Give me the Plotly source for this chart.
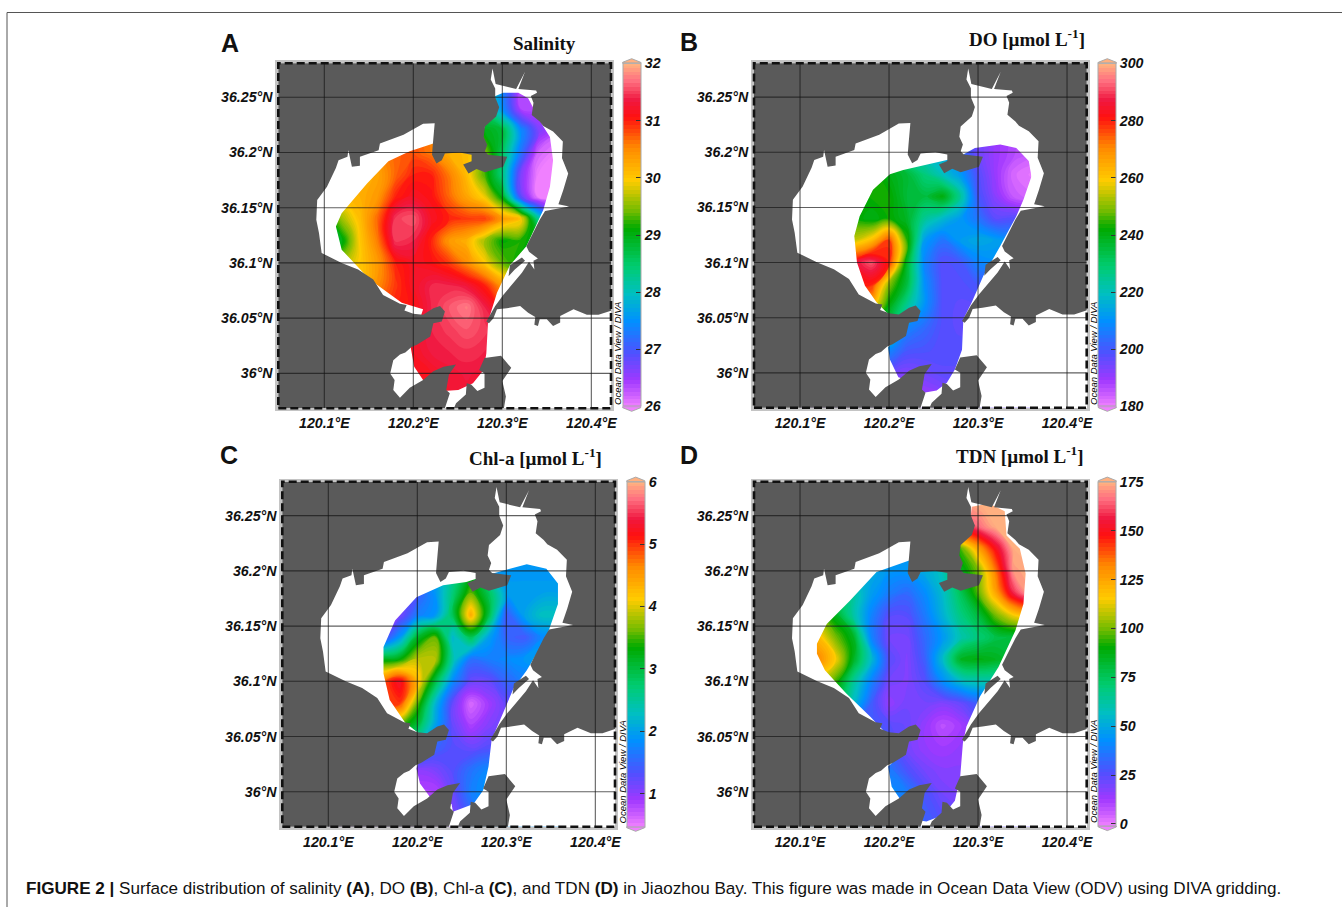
import plotly.graph_objects as go

W, H = 1342, 907

# ---------- data ----------
lon_grid = [120.10, 120.12, 120.14, 120.16, 120.18, 120.20, 120.22, 120.24, 120.26, 120.28, 120.30, 120.32, 120.34, 120.36]
lat_grid = [35.96, 35.98, 36.00, 36.02, 36.04, 36.06, 36.08, 36.10, 36.12, 36.14, 36.16, 36.18, 36.20, 36.22, 36.24, 36.26]

salinity = [
 [31.1,31.1,31.1,31.1,31.1,31.15,31.2,31.25,31.3,31.3,31.3,31.3,31.3,31.3],
 [31.1,31.1,31.1,31.1,31.1,31.15,31.2,31.25,31.3,31.3,31.3,31.3,31.3,31.3],
 [31.1,31.1,31.1,31.1,31.1,31.15,31.2,31.3,31.35,31.3,31.3,31.3,31.3,31.3],
 [31.1,31.1,31.1,31.1,31.1,31.2,31.35,31.4,31.45,31.4,31.3,31.3,31.3,31.3],
 [31.1,31.1,31.1,31.1,31.1,31.2,31.4,31.5,31.6,31.5,31.3,31.3,31.3,31.3],
 [30.5,30.5,30.6,30.8,31.0,31.1,31.4,31.6,31.75,31.4,31.0,31.0,31.0,31.0],
 [30.0,30.0,30.0,30.5,30.9,31.2,31.4,31.4,31.3,31.0,30.4,30.0,30.0,30.0],
 [29.0,29.6,30.0,30.4,31.0,31.2,31.1,30.9,30.5,30.0,29.4,29.1,29.0,29.0],
 [28.5,29.0,30.0,30.6,31.5,31.4,31.0,30.4,30.2,29.6,29.1,29.2,29.0,28.0],
 [29.0,29.6,30.1,30.7,31.5,31.6,31.2,31.0,30.9,30.9,30.4,30.1,28.3,27.0],
 [30.0,30.1,30.2,30.4,31.0,31.2,31.1,30.7,30.3,29.9,29.0,26.9,26.0,26.0],
 [30.2,30.2,30.2,30.3,30.7,31.0,31.0,30.6,30.1,29.3,28.4,26.7,26.0,26.0],
 [30.4,30.4,30.4,30.5,30.7,30.8,30.6,30.2,30.1,29.5,28.6,27.3,26.2,26.0],
 [30.4,30.4,30.4,30.5,30.7,30.8,30.6,30.2,29.8,29.0,28.8,27.5,26.7,26.3],
 [30.4,30.4,30.4,30.5,30.7,30.8,30.6,30.2,29.8,28.5,27.5,26.4,26.3,26.0],
 [30.4,30.4,30.4,30.5,30.7,30.8,30.6,30.2,29.8,28.5,27.5,26.4,26.3,26.0],
]
dissolved_oxygen = [
 [190,190,190,190,190,190,190,190,192,195,195,195,195,195],
 [190,190,190,190,190,190,190,190,192,195,195,195,195,195],
 [195,195,195,195,195,195,193,195,197,197,197,197,197,197],
 [208,208,208,208,208,208,200,199,198,198,198,198,198,198],
 [235,235,235,235,235,230,208,203,198,197,197,197,197,197],
 [262,262,262,262,262,240,225,210,198,197,197,197,197,197],
 [280,280,280,280,280,250,235,210,198,198,200,200,200,200],
 [285,285,285,285,292,280,238,208,198,200,208,210,210,210],
 [255,255,255,255,262,278,245,212,205,212,215,213,210,210],
 [243,243,243,243,240,243,238,225,218,212,205,197,198,198],
 [242,242,242,242,243,243,236,235,241,225,200,192,185,183],
 [243,243,243,243,243,240,236,228,220,212,198,190,183,181],
 [240,240,240,240,240,232,222,218,215,205,195,190,187,185],
 [240,240,240,240,240,232,222,218,215,205,195,190,187,185],
 [240,240,240,240,240,232,222,218,215,205,195,190,187,185],
 [240,240,240,240,240,232,222,218,215,205,195,190,187,185],
]
chlorophyll = [
 [1,1,1,1,1,1,1.0,1.1,1.5,1.9,1.9,1.9,1.9,1.9],
 [1,1,1,1,1,1,1.0,1.1,1.5,1.9,1.9,1.9,1.9,1.9],
 [.8,.8,.8,.8,.8,.8,.8,1.2,1.7,1.9,1.9,1.9,1.9,1.9],
 [1,1,1,1,1,1.0,1.1,1.3,1.6,1.8,1.8,1.8,1.8,1.8],
 [2,2,2,2,2,2.0,1.5,1.3,1.2,1.3,1.3,1.3,1.3,1.3],
 [3.5,3.5,3.5,3.5,3.5,3.0,2.0,1.2,.85,1.05,1.2,1.2,1.2,1.2],
 [5,5,5,5,5.0,3.6,2.2,1.2,.6,.9,1.2,1.2,1.2,1.2],
 [4.8,4.8,4.8,4.8,5.3,4.3,3.0,1.8,1.2,1.2,1.5,1.7,1.7,1.7],
 [3.2,3.2,3.2,3.2,3.3,3.9,3.9,2.4,1.6,1.7,1.8,1.9,2,2],
 [1.2,1.2,1.2,1.2,1.9,3.1,3.6,2.2,2.9,2.0,1.5,1.4,1.8,1.8],
 [1,1,1,1,1.1,1.7,1.9,2.9,4.4,3.0,1.4,2.0,2.3,2.3],
 [1.2,1.2,1.2,1.2,1.2,1.4,1.9,2.7,3.6,2.9,2.0,2.0,2.0,2.0],
 [2,2,2,2,2,2,2,2.5,3,1.9,1.9,1.9,1.9,1.9],
 [2,2,2,2,2,2,2,2,2,2,2,2,2,2],
 [2,2,2,2,2,2,2,2,2,2,2,2,2,2],
 [2,2,2,2,2,2,2,2,2,2,2,2,2,2],
]
tdn = [
 [40,40,40,40,40,40,40,32,28,25,25,25,25,25],
 [40,40,40,40,40,40,40,30,25,22,22,22,22,22],
 [42,42,42,42,42,42,38,27,20,18,18,18,18,18],
 [37,37,37,37,37,37,27,20,17,17,17,17,17,17],
 [30,30,30,30,30,30,20,15,13,15,15,15,15,15],
 [30,30,30,30,30,25,22,15,8,12,20,20,20,20],
 [80,80,80,55,30,15,20,20,18,22,30,30,30,30],
 [115,110,95,65,40,20,18,25,42,55,60,60,60,60],
 [130,132,115,85,55,25,18,30,55,85,88,85,80,80],
 [125,120,100,85,40,20,20,33,45,60,70,78,80,80],
 [105,100,85,62,40,25,25,37,52,68,80,100,115,120],
 [80,80,75,62,47,38,33,42,55,75,97,125,158,175],
 [60,60,60,55,50,45,45,50,58,85,100,135,172,175],
 [60,60,60,55,50,45,45,50,58,95,125,150,175,175],
 [60,60,60,55,50,45,45,50,58,150,165,175,175,175],
 [60,60,60,55,50,45,45,50,58,175,175,175,175,175],
]

main_land_lon = [120.423,120.408,120.395,120.380,120.365,120.365,120.357,120.350,120.342,120.340,120.336,120.337,120.329,120.320,120.305,120.294,120.290,120.285,120.282,120.286,120.292,120.301,120.3105,120.322,120.330,120.336,120.335,120.340,120.330,120.327,120.342,120.348,120.375,120.363,120.3685,120.374,120.367,120.368,120.357,120.346,120.342,120.333,120.335,120.332,120.339,120.338,120.318,120.3255,120.3155,120.2925,120.289,120.287,120.292,120.292,120.2965,120.293,120.2805,120.279,120.283,120.2805,120.284,120.3055,120.301,120.2805,120.271,120.262,120.256,120.2655,120.2655,120.252,120.2355,120.232,120.226,120.221,120.222,120.224,120.211,120.189,120.1625,120.161,120.140,120.140,120.131,120.127,120.126,120.116,120.113,120.103,120.092,120.091,120.094,120.097,120.1195,120.138,120.155,120.166,120.185,120.1925,120.190,120.200,120.211,120.2225,120.230,120.2355,120.232,120.2225,120.219,120.204,120.198,120.191,120.185,120.1775,120.174,120.179,120.1775,120.185,120.196,120.211,120.2225,120.234,120.248,120.240,120.237,120.241,120.232,120.04,120.04,120.43,120.43]
main_land_lat = [36.057,36.053,36.053,36.058,36.052,36.046,36.043,36.049,36.049,36.043,36.044,36.051,36.055,36.061,36.059,36.058,36.050,36.0455,36.047,36.053,36.061,36.071,36.080,36.091,36.101,36.094,36.102,36.104,36.110,36.115,36.139,36.147,36.151,36.153,36.166,36.181,36.195,36.210,36.219,36.224,36.228,36.234,36.245,36.251,36.254,36.256,36.2575,36.273,36.2575,36.262,36.276,36.266,36.258,36.25,36.241,36.2325,36.2235,36.214,36.207,36.201,36.198,36.196,36.187,36.182,36.185,36.181,36.189,36.192,36.198,36.200,36.199,36.193,36.190,36.198,36.208,36.2265,36.226,36.216,36.208,36.202,36.196,36.188,36.187,36.202,36.196,36.193,36.186,36.169,36.157,36.139,36.127,36.109,36.100,36.094,36.085,36.071,36.063,36.062,36.057,36.054,36.053,36.059,36.061,36.056,36.047,36.0455,36.0335,36.026,36.024,36.019,36.017,36.012,36.000,35.994,35.985,35.978,35.987,35.994,36.002,36.006,36.008,35.999,35.985,35.982,35.96,35.96,36.29,36.29,36.057]

south_land_lon = [120.300,120.304,120.300,120.310,120.2985,120.280,120.274,120.280,120.280,120.272,120.265,120.260,120.259,120.248,120.241]
south_land_lat = [35.96,35.979,35.993,36.005,36.016,36.014,36.003,36.000,35.987,35.984,35.990,35.991,35.981,35.973,35.96]

islet_lon = [120.307,120.3085,120.322,120.3255,120.314]
islet_lat = [36.088,36.098,36.105,36.102,36.094]

area_a_lon = [120.289,120.301,120.318,120.329,120.335,120.346,120.3535,120.357,120.3535,120.346,120.327,120.3085,120.294,120.284,120.282,120.279,120.267,120.2505,120.234,120.211,120.201,120.197,120.211,120.187,120.151,120.1195,120.113,120.1195,120.148,120.172,120.196,120.2225,120.234,120.279]
area_a_lat = [36.25,36.254,36.254,36.249,36.240,36.2235,36.214,36.193,36.169,36.148,36.115,36.098,36.073,36.047,36.018,36.003,35.991,35.985,35.984,35.994,36.006,36.024,36.058,36.064,36.085,36.112,36.133,36.145,36.172,36.192,36.201,36.208,36.217,36.220]
area_b_lon = [120.2835,120.2965,120.325,120.343,120.357,120.360,120.351,120.343,120.325,120.306,120.293,120.2835,120.282,120.274,120.265,120.2535,120.239,120.229,120.2105,120.201,120.199,120.216,120.186,120.173,120.164,120.161,120.167,120.182,120.201,120.216,120.2385,120.265]
area_b_lat = [36.198,36.204,36.207,36.204,36.192,36.178,36.157,36.142,36.115,36.088,36.064,36.0485,36.021,36.003,35.991,35.984,35.982,35.991,35.996,36.012,36.023,36.0395,36.064,36.079,36.100,36.124,36.142,36.166,36.180,36.184,36.188,36.193]
area_c_lon = [120.282,120.304,120.323,120.345,120.358,120.358,120.345,120.323,120.308,120.293,120.2835,120.280,120.274,120.263,120.240,120.2385,120.214,120.203,120.199,120.2105,120.186,120.169,120.162,120.162,120.175,120.199,120.229,120.255]
area_c_lat = [36.197,36.202,36.206,36.202,36.1885,36.170,36.140,36.110,36.0935,36.065,36.047,36.023,36.0015,35.989,35.982,35.989,35.9955,36.0075,36.021,36.047,36.063,36.083,36.107,36.131,36.155,36.176,36.187,36.190]
area_d_lon = [120.293,120.312,120.330,120.332,120.347,120.3535,120.351,120.342,120.323,120.302,120.287,120.283,120.280,120.274,120.261,120.242,120.235,120.212,120.203,120.199,120.216,120.1955,120.179,120.152,120.128,120.119,120.119,120.130,120.156,120.186,120.2235,120.2255,120.277,120.291]
area_d_lat = [36.258,36.261,36.254,36.232,36.220,36.1975,36.170,36.146,36.113,36.086,36.059,36.044,36.014,35.992,35.979,35.973,35.974,35.994,36.0045,36.023,36.035,36.054,36.068,36.089,36.110,36.125,36.134,36.152,36.173,36.199,36.2095,36.222,36.222,36.244]

lon_ticks = [120.1, 120.2, 120.3, 120.4]
lon_labels = ["120.1°E", "120.2°E", "120.3°E", "120.4°E"]
lat_ticks = [36.0, 36.05, 36.1, 36.15, 36.2, 36.25]
lat_labels = ["36°N", "36.05°N", "36.1°N", "36.15°N", "36.2°N", "36.25°N"]

salinity_ticks = [26, 27, 28, 29, 30, 31, 32]
do_ticks = [180, 200, 220, 240, 260, 280, 300]
chl_ticks = [1, 2, 3, 4, 5, 6]
tdn_ticks = [0, 25, 50, 75, 100, 125, 150, 175]

titles = ["Salinity", "DO [µmol L<sup>-1</sup>]", "Chl-a [µmol L<sup>-1</sup>]", "TDN [µmol L<sup>-1</sup>]"]
letters = ["A", "B", "C", "D"]
caption = ("<b>FIGURE 2 |</b> Surface distribution of salinity <b>(A)</b>, DO <b>(B)</b>, Chl-a <b>(C)</b>, and TDN <b>(D)</b> "
           "in Jiaozhou Bay. This figure was made in Ocean Data View (ODV) using DIVA gridding.")

# ---------- style ----------
LAND = "#5a5a5a"
SANS = "Liberation Sans"
SERIF = "Liberation Serif"
odv = [[0, "#F080FF"], [.078, "#A038FF"], [.155, "#5050FF"], [.25, "#0090FF"], [.33, "#00C0C0"],
       [.41, "#00CC70"], [.52, "#00AA00"], [.57, "#70BB00"], [.66, "#FFCC00"], [.757, "#FF8800"],
       [.845, "#FF1010"], [.893, "#F01840"], [.95, "#FF7080"], [1, "#FFB080"]]
X_RANGE = [120.0483, 120.4221]
Y_RANGE = [35.9684, 36.2807]
TICKFONT = dict(family=SANS, size=14.2, color="#111", weight=700, style="italic")

panels = [
    dict(z=salinity, alon=area_a_lon, alat=area_a_lat, zr=(26, 32), ticks=salinity_ticks,
         box=(278.3, 611, 63.3, 408.3), bar=(622.7, 63.3, 406.7), title=(544, 43), letter=(230, 43), odv=(617, 354)),
    dict(z=dissolved_oxygen, alon=area_b_lon, alat=area_b_lat, zr=(180, 300), ticks=do_ticks,
         box=(754, 1086.7, 63.3, 407.7), bar=(1098.3, 63.3, 406.7), title=(1027, 38), letter=(689, 42), odv=(1093, 354)),
    dict(z=chlorophyll, alon=area_c_lon, alat=area_c_lat, zr=(0.47, 6), ticks=chl_ticks,
         box=(282.3, 615, 481.7, 826.7), bar=(626.7, 481.7, 826.7), title=(535, 457), letter=(229, 455), odv=(621.5, 772)),
    dict(z=tdn, alon=area_d_lon, alat=area_d_lat, zr=(-1, 175), ticks=tdn_ticks,
         box=(754, 1086.7, 481.7, 826.7), bar=(1098.3, 481.7, 826), title=(1020, 455), letter=(689, 455), odv=(1093, 772)),
]

def fx(p): return p / W
def fy(p): return 1 - p / H

fig = go.Figure()
layout_axes = {}
shapes, annots = [], []
gx, gy = [], []
for t in lon_ticks:
    gx += [t, t, None]; gy += [Y_RANGE[0], Y_RANGE[1], None]
for t in lat_ticks:
    gx += [X_RANGE[0], X_RANGE[1], None]; gy += [t, t, None]

for i, p in enumerate(panels):
    sfx = "" if i == 0 else str(i + 1)
    xa, ya = "x" + sfx, "y" + sfx
    l, r, t, b = p["box"]
    layout_axes["xaxis" + sfx] = dict(domain=[fx(l), fx(r)], range=X_RANGE, anchor=ya, tickvals=lon_ticks, ticktext=lon_labels,
                                      tickfont=TICKFONT, ticks="", showgrid=False, zeroline=False, showline=True,
                                      mirror=True, linecolor="#c4c4c4", linewidth=3)
    layout_axes["yaxis" + sfx] = dict(domain=[fy(b), fy(t)], range=Y_RANGE, anchor=xa, tickvals=lat_ticks, ticktext=lat_labels,
                                      tickfont=TICKFONT, ticks="", showgrid=False, zeroline=False, showline=True,
                                      mirror=True, linecolor="#c4c4c4", linewidth=3)
    bx, btop, bbot = p["bar"]
    zlo, zhi = p["zr"]
    fig.add_trace(go.Contour(
        x=lon_grid, y=lat_grid, z=p["z"], zmin=zlo, zmax=zhi, colorscale=odv,
        contours=dict(coloring="fill", showlines=False, start=zlo, end=zhi, size=(zhi - zlo) / 90),
        line=dict(width=0, smoothing=1.3),
        xaxis=xa, yaxis=ya, hoverinfo="skip",
        colorbar=dict(x=fx(bx), xanchor="left", xpad=0, y=fy((btop + bbot) / 2), yanchor="middle", ypad=0,
                      len=bbot - btop, lenmode="pixels", thickness=18, thicknessmode="pixels",
                      outlinecolor="#aaaaaa", outlinewidth=1, tickvals=p["ticks"], ticks="inside", ticklen=5,
                      tickcolor="#333", tickfont=dict(family=SANS, size=14.2, color="#111", weight=700, style="italic"))))
    # white water outside the gridded area: frame with the area cut out
    fl, fr, fb, ft = 120.04, 120.43, 35.96, 36.29
    mx = [fl, fr, fr, fl, fl] + p["alon"] + [p["alon"][0], fl]
    my = [fb, fb, ft, ft, fb] + p["alat"] + [p["alat"][0], fb]
    fig.add_trace(go.Scatter(x=mx, y=my, mode="lines", fill="toself", fillcolor="white", line=dict(width=0),
                             xaxis=xa, yaxis=ya, hoverinfo="skip", showlegend=False))
    for lx, ly in [(main_land_lon, main_land_lat), (south_land_lon, south_land_lat), (islet_lon, islet_lat)]:
        fig.add_trace(go.Scatter(x=lx, y=ly, mode="lines", fill="toself", fillcolor=LAND, line=dict(width=0),
                                 xaxis=xa, yaxis=ya, hoverinfo="skip", showlegend=False))
    fig.add_trace(go.Scatter(x=gx, y=gy, mode="lines", line=dict(color="rgba(20,20,20,0.68)", width=1.1),
                             xaxis=xa, yaxis=ya, hoverinfo="skip", showlegend=False))
    # dashed frame
    shapes.append(dict(type="rect", xref="paper", yref="paper", x0=fx(l), x1=fx(r), y0=fy(b), y1=fy(t),
                       line=dict(color="#111", width=2.6, dash="8px,4px"), layer="above"))
    # colour bar end caps
    bw = 18
    cap = 3.6
    shapes.append(dict(type="path", xref="paper", yref="paper", fillcolor="#FFB080", line=dict(color="#aaaaaa", width=1),
                       path=f"M {fx(bx)} {fy(btop)} L {fx(bx)} {fy(btop-1)} L {fx(bx+bw/2)} {fy(btop-cap-1)} L {fx(bx+bw)} {fy(btop-1)} L {fx(bx+bw)} {fy(btop)} Z"))
    shapes.append(dict(type="path", xref="paper", yref="paper", fillcolor="#F080FF", line=dict(color="#aaaaaa", width=1),
                       path=f"M {fx(bx)} {fy(bbot)} L {fx(bx)} {fy(bbot+1)} L {fx(bx+bw/2)} {fy(bbot+cap+1)} L {fx(bx+bw)} {fy(bbot+1)} L {fx(bx+bw)} {fy(bbot)} Z"))
    annots.append(dict(text=titles[i], x=fx(p["title"][0]), y=fy(p["title"][1]), xref="paper", yref="paper", showarrow=False,
                       font=dict(family=SERIF, size=19, color="#111", weight=700), xanchor="center", yanchor="middle"))
    annots.append(dict(text=letters[i], x=fx(p["letter"][0]), y=fy(p["letter"][1]), xref="paper", yref="paper", showarrow=False,
                       font=dict(family=SANS, size=25, color="#111", weight=700), xanchor="center", yanchor="middle"))
    annots.append(dict(text="Ocean Data View / DIVA", x=fx(p["odv"][0]), y=fy(p["odv"][1]), xref="paper", yref="paper",
                       showarrow=False, textangle=-90, font=dict(family=SANS, size=9.5, color="#000", style="italic"),
                       xanchor="center", yanchor="middle"))

annots.append(dict(text=caption, x=fx(24), y=fy(888), xref="paper", yref="paper", showarrow=False, xanchor="left", yanchor="middle",
                   align="left", font=dict(family=SANS, size=17.1, color="#111")))
shapes.append(dict(type="line", xref="paper", yref="paper", x0=fx(7), x1=1, y0=fy(12.5), y1=fy(12.5), line=dict(color="#555", width=1)))
shapes.append(dict(type="line", xref="paper", yref="paper", x0=fx(7), x1=fx(7), y0=0, y1=fy(12.5), line=dict(color="#555", width=1)))

fig.update_layout(width=W, height=H, autosize=False, margin=dict(l=0, r=0, t=0, b=0, autoexpand=False), paper_bgcolor="white", plot_bgcolor="white",
                  showlegend=False, hovermode=False, shapes=shapes, annotations=annots, **layout_axes)

fig.write_html("out.html", post_script="document.body.style.margin='0';document.body.style.overflow='hidden';", config=dict(displayModeBar=False))
